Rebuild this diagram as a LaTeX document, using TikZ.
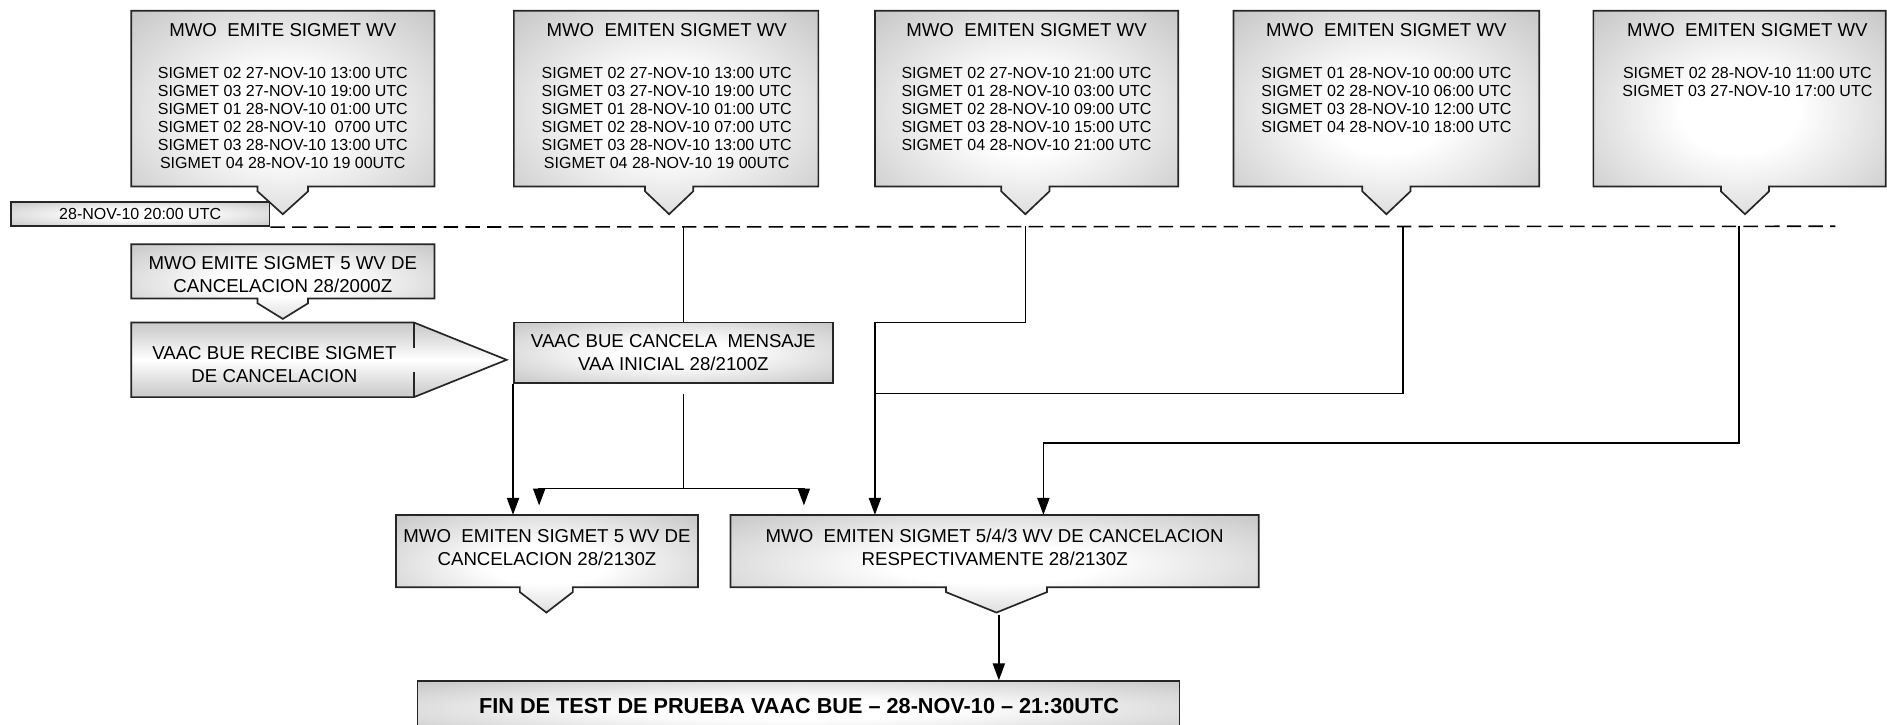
\documentclass[tikz,border=0pt]{standalone}
\usepackage{fontspec}
\setmainfont{Liberation Sans}
\usetikzlibrary{arrows.meta}
\pgfdeclareradialshading{softrad}{\pgfpoint{0bp}{0bp}}{color(0bp)=(white); color(10bp)=(white); color(40bp)=(gray!52); color(50bp)=(gray!66); color(80bp)=(gray!66)}
\pgfdeclareverticalshading{softband}{100bp}{color(0bp)=(gray!66); color(30bp)=(gray!35); color(50bp)=(white); color(70bp)=(gray!35); color(100bp)=(gray!66)}
\newcommand\mycallout[7]{%
  \path[bord,rshade] (#1,#2) -- (#3,#2) -- (#3,#4) -- (#5+#6,#4) -- (#5+#6,#4+4)
    -- (#5,#7) -- (#5-#6,#4+4) -- (#5-#6,#4) -- (#1,#4) -- cycle;}
\begin{document}
\begin{tikzpicture}[x=1pt,y=-1pt,
  bord/.style={draw=black!85, line width=1.4pt},
  rshade/.style={shading=softrad},
  vshade/.style={shading=softband},
  frame/.style={draw=none, inner sep=0pt},
  conn/.style={line width=1.4pt, draw=black},
  arr/.style={conn, -{Triangle[length=14pt,width=10pt]}},
  dline/.style={line width=1.3pt, dash pattern=on 12pt off 6pt},
  titlef/.style={font=\fontsize{15.5}{19}\selectfont},
  listf/.style={font=\fontsize{13.3}{15}\selectfont, align=center, inner sep=0pt},
  lowf/.style={font=\fontsize{15.5}{19}\selectfont, align=center, inner sep=0pt},
  finf/.style={font=\bfseries\fontsize{18}{22}\selectfont, inner sep=0pt},
]
\useasboundingbox (0,0) rectangle (1568,602);

% ---------- top callouts ----------
\mycallout{109}{9}{361}{155}{235}{21}{178}
\mycallout{427}{9}{680}{155}{556}{20}{178}
\mycallout{727}{9}{979}{155}{852}{20}{178}
\mycallout{1025}{9}{1279}{155}{1152}{20}{178}
\mycallout{1324}{9}{1567}{155}{1450}{20}{178}

\node[frame, minimum width=252pt, minimum height=146pt] (b1) at (235,82) {};
\node[frame, minimum width=253pt, minimum height=146pt] (b2) at (553.5,82) {};
\node[frame, minimum width=252pt, minimum height=146pt] (b3) at (853,82) {};
\node[frame, minimum width=254pt, minimum height=146pt] (b4) at (1152,82) {};
\node[frame, minimum width=243pt, minimum height=146pt] (b5) at (1445.5,82) {};

\node[titlef] (t1) at (235,25) {MWO\ \ EMITE SIGMET WV};
\node[listf, anchor=north] (l1) at (235,55.5) {SIGMET 02 27-NOV-10 13:00 UTC\\SIGMET 03 27-NOV-10 19:00 UTC\\SIGMET 01 28-NOV-10 01:00 UTC\\SIGMET 02 28-NOV-10\ \ 0700 UTC\\SIGMET 03 28-NOV-10 13:00 UTC\\SIGMET 04 28-NOV-10 19 00UTC};

\node[titlef] (t2) at (554,25) {MWO\ \ EMITEN SIGMET WV};
\node[listf, anchor=north] (l2) at (554,55.5) {SIGMET 02 27-NOV-10 13:00 UTC\\SIGMET 03 27-NOV-10 19:00 UTC\\SIGMET 01 28-NOV-10 01:00 UTC\\SIGMET 02 28-NOV-10 07:00 UTC\\SIGMET 03 28-NOV-10 13:00 UTC\\SIGMET 04 28-NOV-10 19 00UTC};

\node[titlef] (t3) at (853,25) {MWO\ \ EMITEN SIGMET WV};
\node[listf, anchor=north] (l3) at (853,55.5) {SIGMET 02 27-NOV-10 21:00 UTC\\SIGMET 01 28-NOV-10 03:00 UTC\\SIGMET 02 28-NOV-10 09:00 UTC\\SIGMET 03 28-NOV-10 15:00 UTC\\SIGMET 04 28-NOV-10 21:00 UTC};

\node[titlef] (t4) at (1152,25) {MWO\ \ EMITEN SIGMET WV};
\node[listf, anchor=north] (l4) at (1152,55.5) {SIGMET 01 28-NOV-10 00:00 UTC\\SIGMET 02 28-NOV-10 06:00 UTC\\SIGMET 03 28-NOV-10 12:00 UTC\\SIGMET 04 28-NOV-10 18:00 UTC};

\node[titlef] (t5) at (1452,25) {MWO\ \ EMITEN SIGMET WV};
\node[listf, anchor=north] (l5) at (1452,55.5) {SIGMET 02 28-NOV-10 11:00 UTC\\SIGMET 03 27-NOV-10 17:00 UTC};

% ---------- date box and dashed line ----------
\node[bord, rshade, minimum width=215pt, minimum height=20pt, inner sep=0pt,
      font=\fontsize{13.3}{15}\selectfont] (date) at (116.5,178) {28-NOV-10 20:00 UTC};
\coordinate (dend) at (1525,188);
\draw[dline] (date.south east) -- (dend);

\coordinate (d2) at (568,188);
\coordinate (d3) at (852,188);
\coordinate (d4) at (1166,188);
\coordinate (d5) at (1445,188);

% ---------- left column ----------
\mycallout{109}{203}{361}{248}{235}{21}{265}
\node[lowf] (emite5) at (235,228) {MWO EMITE SIGMET 5 WV DE\\CANCELACION 28/2000Z};

\path[bord, vshade] (109,268) -- (344,268) -- (421,299) -- (344,330) -- (109,330) -- cycle;
\draw[bord] (344,268) -- (344,289) (344,309) -- (344,330);
\node[lowf] (recibe) at (228,303) {VAAC BUE RECIBE SIGMET\\DE CANCELACION};

\node[bord, rshade, minimum width=265pt, minimum height=50pt, lowf] (cancel) at (559.5,293)
  {VAAC BUE CANCELA\ \ MENSAJE\\VAA INICIAL 28/2100Z};

% ---------- bottom callouts ----------
\mycallout{329}{428}{580}{488}{454}{22}{509}
\mycallout{607}{428}{1046}{488}{828}{42}{509}
\node[frame, minimum width=251pt, minimum height=60pt] (bl) at (454.5,458) {};
\node[frame, minimum width=439pt, minimum height=60pt] (br) at (826.5,458) {};
\node[lowf] (blt) at (454.5,455) {MWO\ \ EMITEN SIGMET 5 WV DE\\CANCELACION 28/2130Z};
\node[lowf] (brt) at (826.5,455) {MWO\ \ EMITEN SIGMET 5/4/3 WV DE CANCELACION\\RESPECTIVAMENTE 28/2130Z};
\coordinate (ptip) at (830,511);

\node[bord, rshade, minimum width=633pt, minimum height=46pt, finf] (fin) at (663.5,589)
  {};
\node[finf] (fint) at (664,587) {FIN DE TEST DE PRUEBA VAAC BUE – 28-NOV-10 – 21:30UTC};

% ---------- connectors ----------
\coordinate (j3) at (727,268);
\coordinate (j4) at (727,327);
\coordinate (j5) at (867,368);
\coordinate (c1) at (568,327);
\coordinate (c2) at (568,406);
\coordinate (a1) at (448,420);
\coordinate (a2) at (668,420);

\draw[conn] (d2) -- (d2 |- cancel.north);
\draw[arr] (d3) |- (j3) -- (j3 |- br.north);
\draw[conn] (d4) |- (j4);
\draw[arr] (d5) |- (j5) -- (j5 |- br.north);
\draw[arr] (cancel.south west) -- (cancel.south west |- bl.north);
\draw[conn] (c1) -- (c2);
\draw[arr] (c2) -| (a1);
\draw[arr] (c2) -| (a2);
\draw[arr] (ptip) -- (ptip |- fin.north);
\end{tikzpicture}
\end{document}
